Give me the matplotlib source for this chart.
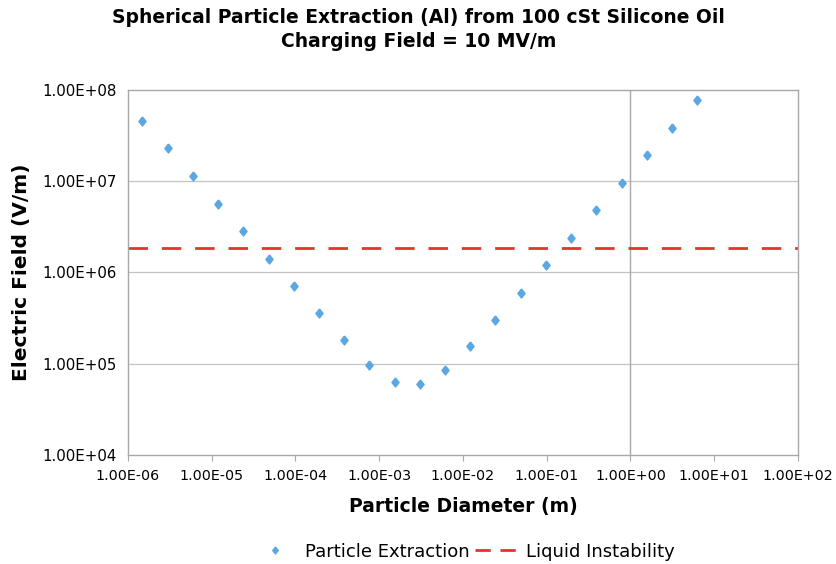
import matplotlib
matplotlib.use("Agg")
import matplotlib.pyplot as plt
from matplotlib.lines import Line2D
from matplotlib.ticker import FixedLocator, NullLocator

# particle diameter (m) and extraction field (V/m)
diameter = [1.49e-6, 2.98e-6, 5.96e-6, 1.19e-5, 2.38e-5, 4.77e-5, 9.54e-5,
            1.91e-4, 3.81e-4, 7.63e-4, 1.53e-3, 3.05e-3, 6.10e-3, 1.22e-2,
            2.44e-2, 4.88e-2, 9.77e-2, 0.195, 0.391, 0.781, 1.5625, 3.125, 6.25]
field = [4.6e7, 2.3e7, 1.14e7, 5.7e6, 2.85e6, 1.42e6, 7.1e5, 3.57e5, 1.82e5,
         9.8e4, 6.35e4, 6.0e4, 8.6e4, 1.55e5, 3.0e5, 6.0e5, 1.21e6, 2.4e6,
         4.8e6, 9.6e6, 1.94e7, 3.86e7, 7.77e7]
instability = 1.84e6

x_ticks = [1e-6, 1e-5, 1e-4, 1e-3, 1e-2, 1e-1, 1e0, 1e1, 1e2]
x_labels = ["1.00E-06", "1.00E-05", "1.00E-04", "1.00E-03", "1.00E-02",
            "1.00E-01", "1.00E+00", "1.00E+01", "1.00E+02"]
y_ticks = [1e4, 1e5, 1e6, 1e7, 1e8]
y_labels = ["1.00E+04", "1.00E+05", "1.00E+06", "1.00E+07", "1.00E+08"]

BLUE = "#5aa7e3"
RED = "#e8322b"
diamond = [(0, 1), (0.8, 0), (0, -1), (-0.8, 0), (0, 1)]

plt.rcParams["font.family"] = ["DejaVu Sans"]

fig = plt.figure(figsize=(8.37, 5.64), dpi=100)
ax = fig.add_axes([0.1529, 0.1933, 0.8005, 0.6471])
ax.set_xscale("log")
ax.set_yscale("log")
ax.set_xlim(1e-6, 1e2)
ax.set_ylim(1e4, 1e8)

for v in y_ticks[1:-1]:
    ax.axhline(v, color="#c4c4c4", lw=0.9, zorder=1)
ax.axvline(1e0, color="#a8a8a8", lw=1.0, zorder=1)

ax.plot(diameter, field, linestyle="none", marker=diamond, markersize=6.5,
        color=BLUE, zorder=3)
ax.axhline(instability, color=RED, lw=2.0, dashes=(7, 5), zorder=2)

ax.xaxis.set_major_locator(FixedLocator(x_ticks))
ax.yaxis.set_major_locator(FixedLocator(y_ticks))
ax.xaxis.set_minor_locator(NullLocator())
ax.yaxis.set_minor_locator(NullLocator())
ax.set_xticklabels(x_labels, fontsize=10.3)
ax.set_yticklabels(y_labels, fontsize=10.8)
ax.tick_params(axis="x", length=4, color="#a8a8a8", pad=6)
ax.tick_params(axis="y", length=0, pad=8)
for s in ax.spines.values():
    s.set_color("#a8a8a8")
    s.set_linewidth(1.0)

ax.set_xlabel("Particle Diameter (m)", fontsize=13.5, fontweight="bold", labelpad=10)
ax.set_ylabel("Electric Field (V/m)", fontsize=14.5, fontweight="bold", labelpad=8)
fig.suptitle("Spherical Particle Extraction (Al) from 100 cSt Silicone Oil\n"
             "Charging Field = 10 MV/m", fontsize=13.5, fontweight="bold",
             y=0.985, linespacing=1.3)

handles = [
    Line2D([], [], linestyle="none", marker=diamond, markersize=5, color=BLUE,
           label="Particle Extraction"),
    Line2D([], [], color=RED, lw=2.0, dashes=(5.5, 3.5), label="Liquid Instability"),
]
fig.legend(handles=handles, loc="center", bbox_to_anchor=(0.555, 0.022), ncol=2,
           frameon=False, fontsize=13, handlelength=2.3, columnspacing=0.3,
           handletextpad=0.5)

fig.savefig("out.png", dpi=100, facecolor="white")
